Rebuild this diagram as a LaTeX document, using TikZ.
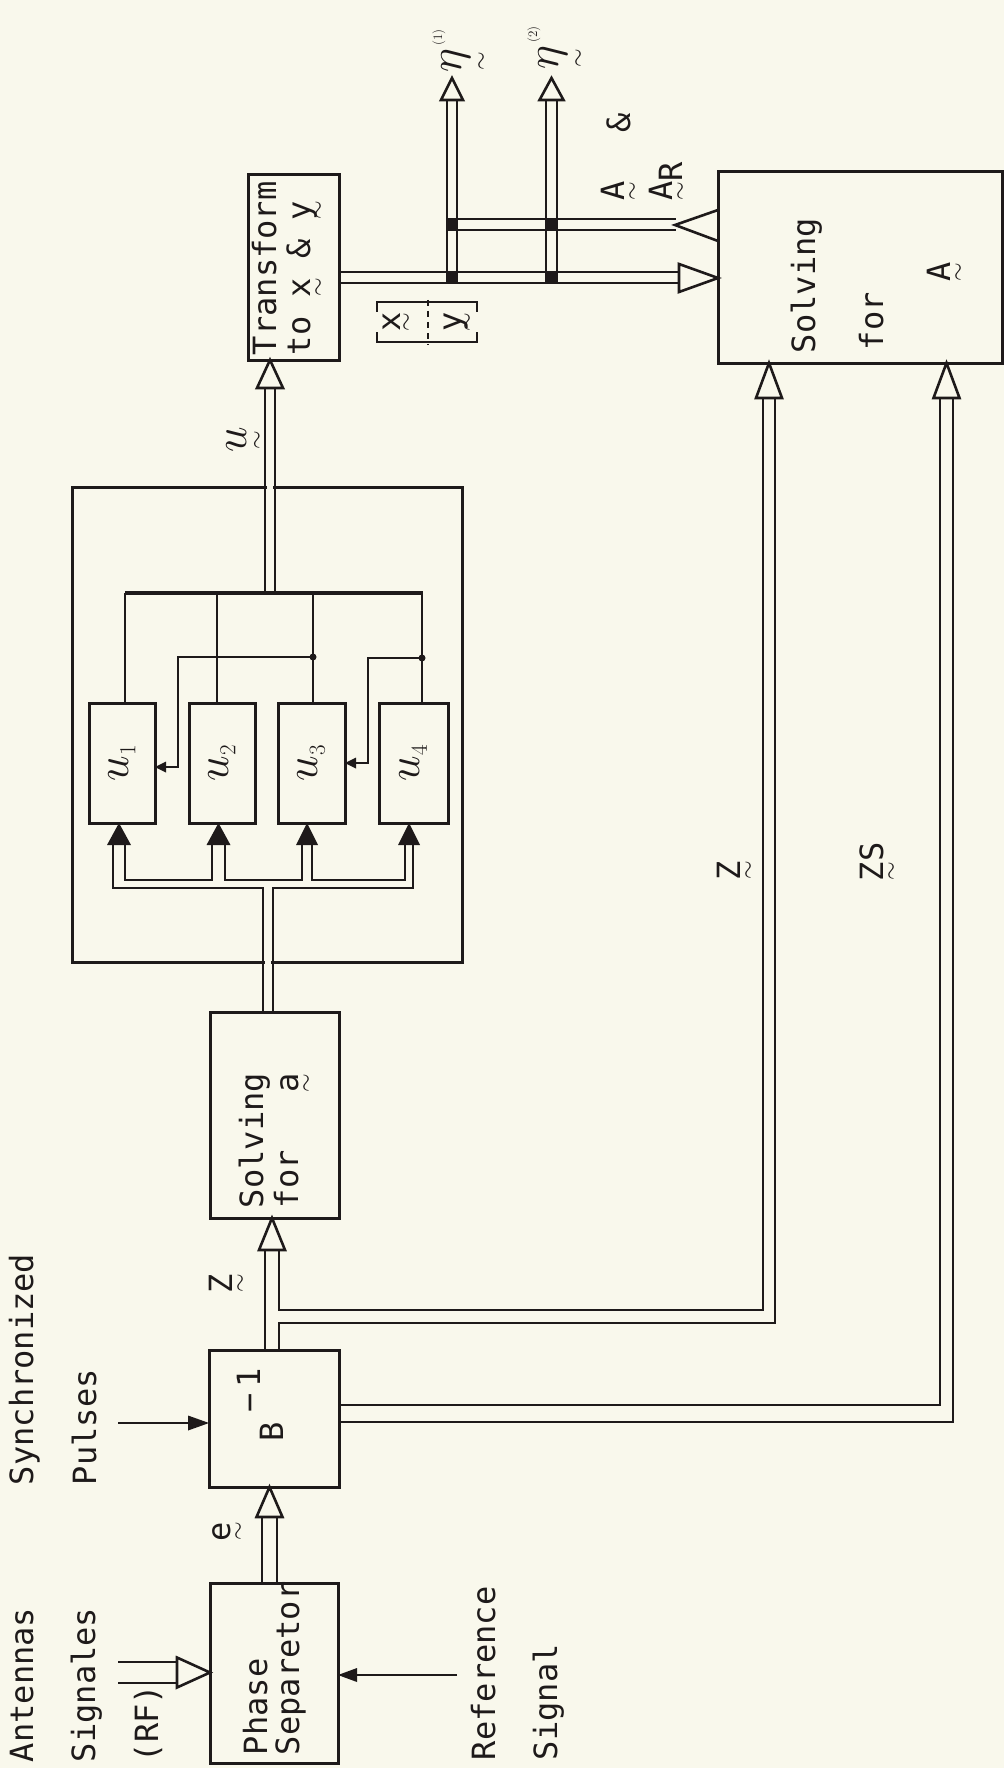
\RequirePackage{fix-cm}
\documentclass[tikz,border=0pt]{standalone}
\usepackage{fontspec}
\setmonofont{DejaVu Sans Mono}
\usepackage{amsmath}
\usetikzlibrary{calc}
\definecolor{bg}{RGB}{249,248,236}
\definecolor{ink}{RGB}{30,26,26}
\newsavebox\utbox
\newcommand\ut[2][14pt]{\leavevmode\sbox\utbox{#2}\rlap{\hbox to \wd\utbox{\hss\raisebox{-#1}{\fontsize{24}{24}\selectfont$\sim$}\hss}}\usebox\utbox}
\newcommand\tfont{\ttfamily\fontsize{32}{34}\selectfont}
\begin{document}
\begin{tikzpicture}[x=1pt,y=-1pt]
\tikzset{
  box/.style={draw=ink, line width=3pt, inner sep=0pt, outer sep=0pt, anchor=north west},
  bus/.style={draw=ink, line width=2.6pt},
  sline/.style={draw=ink, line width=2.8pt},
  ohead/.style={draw=ink, line width=2.6pt, fill=bg, line join=miter},
  fhead/.style={fill=ink},
  lbl/.style={font=\tfont, text=ink, inner sep=0pt, outer sep=0pt, rotate=90, anchor=base west},
  ulab/.style={font=\fontsize{46}{46}\selectfont, text=ink, inner sep=0pt, rotate=90, anchor=center},
  etalab/.style={font=\fontsize{46}{46}\selectfont, text=ink, inner sep=0pt, rotate=90, anchor=base west}
}
\fill[bg] (0,0) rectangle (1004,1768);
\useasboundingbox (0,0) rectangle (1004,1768);

% ---------- boxes ----------
\node[box, minimum width=128pt, minimum height=180pt] (ps) at (210,1583) {};
\node[box, minimum width=130pt, minimum height=137pt] (bb) at (209,1350) {};
\node[box, minimum width=129pt, minimum height=206pt] (sa) at (210,1012) {};
\node[box, minimum width=390pt, minimum height=475pt] (big) at (72,487) {};
\node[box, minimum width=66pt, minimum height=120pt] (u1) at (89,703) {};
\node[box, minimum width=66pt, minimum height=120pt] (u2) at (189,703) {};
\node[box, minimum width=67pt, minimum height=120pt] (u3) at (278,703) {};
\node[box, minimum width=69pt, minimum height=120pt] (u4) at (379,703) {};
\node[box, minimum width=91pt, minimum height=185pt] (tr) at (248,175) {};
\node[box, minimum width=284pt, minimum height=191pt] (sA) at (718,172) {};

% gaps in the big box where the buses pass
\fill[bg] (264.6,955) rectangle (271.4,970);
\fill[bg] (266.6,480) rectangle (273.4,494);

% ---------- antennas -> phase separator ----------
\draw[bus] (118,1662) -- (177,1662);
\draw[bus] (118,1683) -- (177,1683);
\filldraw[ohead] (ps.west |- 0,1672.5) -- ++(-33,-15) -- ++(0,30) -- cycle;

% reference signal
\draw[sline] (457,1675) -- (354,1675);
\fill[fhead] (ps.east |- 0,1675) -- ++(19,-7) -- ++(0,14) -- cycle;

% e : phase separator -> B^-1
\draw[bus] (262,0 |- ps.north) -- (262,1517);
\draw[bus] (277,0 |- ps.north) -- (277,1517);
\filldraw[ohead] (269.5,0 |- bb.south) -- ++(-13,30) -- ++(26,0) -- cycle;

% synchronized pulses
\draw[sline] (118,1423) -- (190,1423);
\fill[fhead] (bb.west |- 0,1423) -- ++(-21,-7.5) -- ++(0,15) -- cycle;

% Z : B^-1 -> solving for a, and branch to solving for A
\draw[bus] (265,0 |- bb.north) -- (265,1250);
\draw[bus] (279,0 |- bb.north) -- (279,1323) -- (775,1323) -- (775,398);
\draw[bus] (279,1250) -- (279,1310) -- (763,1310) -- (763,398);
\filldraw[ohead] (272,0 |- sa.south) -- ++(-13,32) -- ++(26,0) -- cycle;
\filldraw[ohead] (769,0 |- sA.south) -- ++(-13,35) -- ++(26,0) -- cycle;

% Z S : B^-1 -> solving for A
\draw[bus] (bb.east |- 0,1405) -- (940,1405) -- (940,398);
\draw[bus] (bb.east |- 0,1422) -- (953,1422) -- (953,398);
\filldraw[ohead] (946.5,0 |- sA.south) -- ++(-13,35) -- ++(26,0) -- cycle;

% input bus into u blocks
\draw[bus] (263,0 |- sa.north) -- (263,888) -- (113,888) -- (113,845);
\draw[bus] (273,0 |- sa.north) -- (273,888) -- (413,888) -- (413,845);
\draw[bus] (125,845) -- (125,880) -- (212,880) -- (212,845);
\draw[bus] (225,845) -- (225,880) -- (302,880) -- (302,845);
\draw[bus] (312,845) -- (312,880) -- (405,880) -- (405,845);
\fill[fhead] (119,0 |- u1.south) -- ++(-12,22) -- ++(24,0) -- cycle;
\fill[fhead] (218.5,0 |- u2.south) -- ++(-12,22) -- ++(24,0) -- cycle;
\fill[fhead] (307,0 |- u3.south) -- ++(-11,22) -- ++(22,0) -- cycle;
\fill[fhead] (409,0 |- u4.south) -- ++(-11,22) -- ++(22,0) -- cycle;

% output bus of u blocks
\draw[draw=ink, line width=3.4pt] (125,593) -- (423,593);
\draw[sline] (125,593) -- (125,0 |- u1.north);
\draw[sline] (217,593) -- (217,0 |- u2.north);
\draw[sline] (313,593) -- (313,0 |- u3.north);
\draw[sline] (422,593) -- (422,0 |- u4.north);

% feedback lines
\draw[sline] (313,657) -- (178,657) -- (178,767) -- (165,767);
\fill[fhead] (u1.east |- 0,767) -- ++(11,-5.5) -- ++(0,11) -- cycle;
\fill[ink] (313,657) circle (3.5pt);
\draw[sline] (422,658) -- (368,658) -- (368,763) -- (355,763);
\fill[fhead] (u3.east |- 0,763) -- ++(11,-5.5) -- ++(0,11) -- cycle;
\fill[ink] (422,658) circle (3.5pt);

% u : -> transform
\draw[bus] (265,593) -- (265,388);
\draw[bus] (275,593) -- (275,388);
\filldraw[ohead] (270,0 |- tr.south) -- ++(-13,28) -- ++(26,0) -- cycle;

% x,y bus : transform -> solving for A
\draw[bus] (tr.east |- 0,272) -- (679,272);
\draw[bus] (tr.east |- 0,283) -- (679,283);
\filldraw[ohead] (sA.west |- 0,278) -- ++(-39,-14) -- ++(0,28) -- cycle;

% A & AR : solving for A -> junctions
\draw[bus] (446,219) -- (676,219);
\draw[bus] (446,230) -- (676,230);
\draw[ohead, fill=none] (sA.west |- 0,210) -- (675,225) -- (sA.west |- 0,241);

% eta outputs
\draw[bus] (447,283) -- (447,100);
\draw[bus] (457,283) -- (457,100);
\filldraw[ohead] (452,78) -- ++(-11,22) -- ++(22,0) -- cycle;
\draw[bus] (546,283) -- (546,100);
\draw[bus] (557,283) -- (557,100);
\filldraw[ohead] (551.5,78) -- ++(-12,22) -- ++(24,0) -- cycle;
\fill[ink] (446,218) rectangle (458,231);
\fill[ink] (446,271) rectangle (458,284);
\fill[ink] (545,218) rectangle (558,231);
\fill[ink] (545,271) rectangle (558,284);

% [x / y] bracket
\draw[draw=ink, line width=2.2pt] (377,312) -- (377,302) -- (477,302) -- (477,312);
\draw[draw=ink, line width=2.2pt] (377,332) -- (377,342) -- (477,342) -- (477,332);
\draw[draw=ink, line width=2.2pt, dash pattern=on 6pt off 5pt] (428,300) -- (428,345);
\node[lbl, anchor=base] (bx) at (400,322) {\ut[12pt]{x}};
\node[lbl, anchor=base] (by) at (461,322) {\ut[12pt]{y}};

% ---------- texts ----------
\node[lbl] (t1) at (33,1762) {Antennas};
\node[lbl] (t2) at (95,1762) {Signales};
\node[lbl] (t3) at (158,1762) {(RF)};
\node[lbl] (t4) at (33,1485) {Synchronized};
\node[lbl] (t5) at (96,1485) {Pulses};
\node[lbl] (t6) at (495,1760) {Reference};
\node[lbl] (t7) at (557,1760) {Signal};
\node[lbl] (t8) at (267,1755) {Phase};
\node[lbl] (t9) at (299,1755) {Separetor};
\node[lbl] (tb) at (283,1441) {B\kern9pt\raisebox{23pt}{−\kern6pt 1}};
\node[lbl] (te) at (230,1541) {\ut{e}};
\node[lbl] (tz) at (232,1293) {\ut{Z}};
\node[lbl] (ta1) at (263,1208) {Solving};
\node[lbl] (ta2) at (298,1208) {for\kern57.8pt\ut{a}};
\node[lbl] (tt1) at (276,355) {Transform};
\node[lbl] (tt2) at (310,355) {to \ut{x} \& \ut{y}};
\node[lbl] (tA1) at (815,353) {Solving};
\node[lbl] (tA2) at (883,350) {for};
\node[lbl] (tA3) at (950,282) {\ut{A}};
\node[lbl] (tZ) at (740,880) {\ut{Z}};
\node[lbl] (tZS) at (883,881) {\ut{Z}S};
\node[lbl] (tamp) at (630,133) {\&};
\node[lbl] (tAa) at (624,201) {\ut{A}};
\node[lbl] (tAR) at (672,201) {\ut{A}\raisebox{-10pt}{R}};
\node[etalab] (te1) at (461,73) {\ut[26pt]{$\eta$}\kern3pt\raisebox{19pt}{\fontsize{13}{13}\selectfont$(1)$}};
\node[etalab] (te2) at (558,70) {\ut[26pt]{$\eta$}\kern3pt\raisebox{21pt}{\fontsize{13}{13}\selectfont$(2)$}};
\node[ulab] (lu1) at (u1.center) {$u_{\scriptscriptstyle 1}$};
\node[ulab] (lu2) at (u2.center) {$u_{\scriptscriptstyle 2}$};
\node[ulab] (lu3) at (u3.center) {$u_{\scriptscriptstyle 3}$};
\node[ulab] (lu4) at (u4.center) {$u_{\scriptscriptstyle 4}$};
\node[ulab] (lu) at (245,440) {\ut[16pt]{$u$}};
\end{tikzpicture}
\end{document}
